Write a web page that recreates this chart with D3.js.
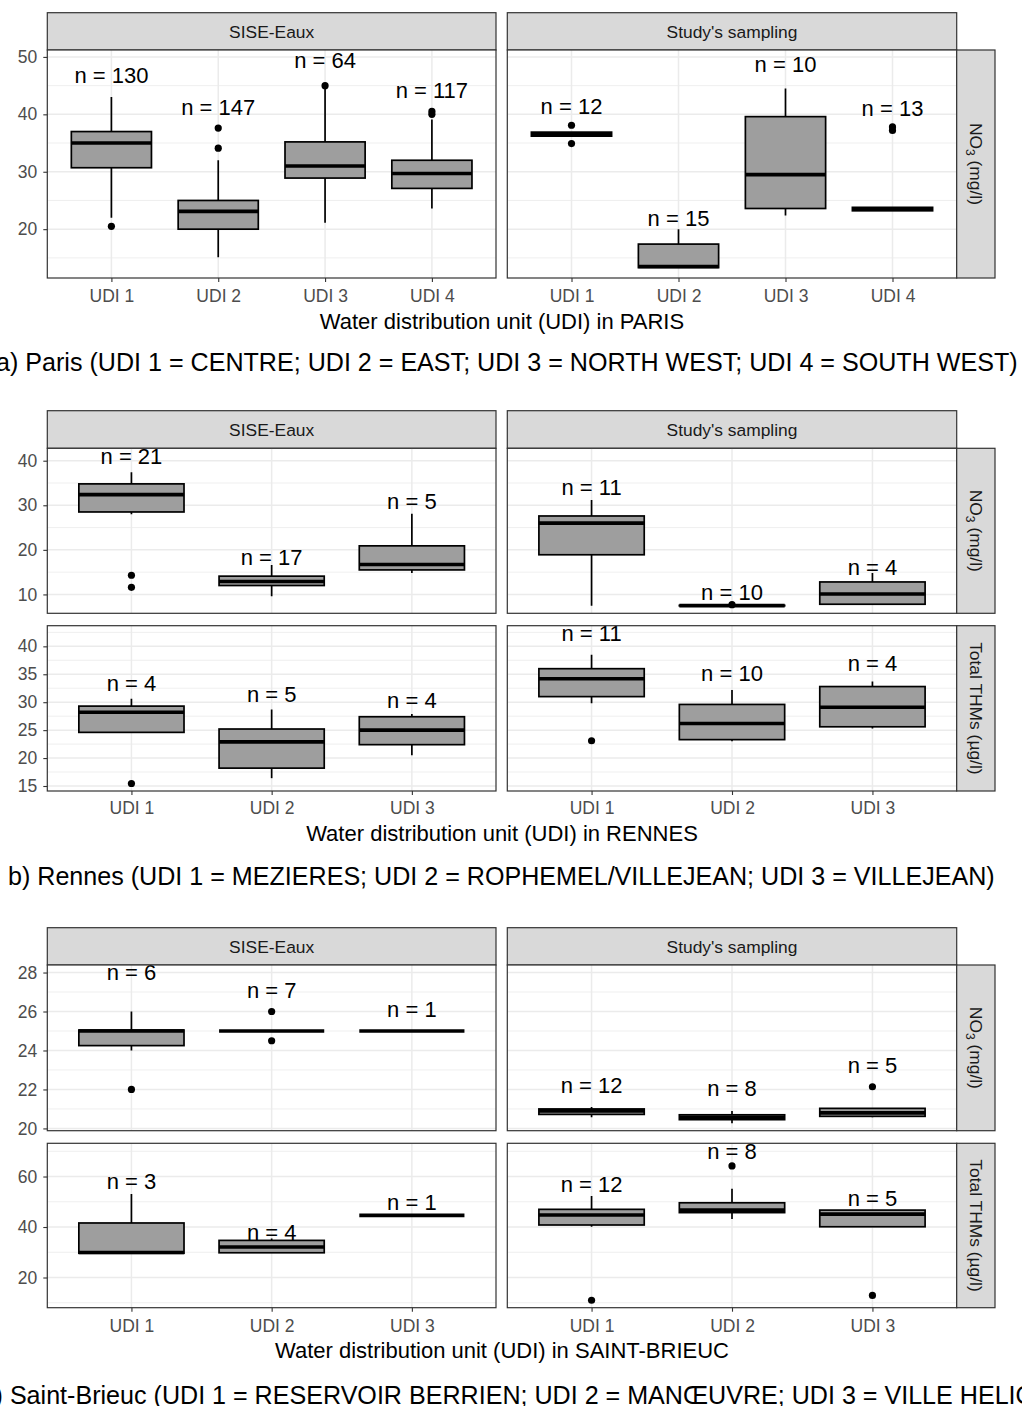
<!DOCTYPE html>
<html>
<head>
<meta charset="utf-8">
<script src="https://cdn.jsdelivr.net/npm/d3@7"></script>
<style>
  body { margin: 0; background: #fff; }
  svg { display: block; font-family: "Liberation Sans", Arial, sans-serif; }
</style>
</head>
<body>
<div class="chart"></div>
<script>
// box stats: [lower whisker, Q1, median, Q3, upper whisker]

// ---- a) Paris ----
const parisCats = ["UDI 1", "UDI 2", "UDI 3", "UDI 4"];
const parisTicks = [20, 30, 40, 50];
const parisSiseNO3 = [[22, 30.7, 35, 37, 43], [15.1, 20, 23.1, 25, 32], [21.1, 28.9, 31, 35.2, 44.5], [23.6, 27.1, 29.7, 32, 39.1]];
const parisSiseNO3Out = [[20.5], [34.1, 37.6], [45], [40, 40.5]];
const parisSiseNO3N = [130, 147, 64, 117];
const parisSiseNO3LabY = [46.8, 41.2, 49.4, 44.3];
const parisStudyNO3 = [[36.2, 36.2, 36.55, 36.9, 36.9], [13.3, 13.3, 13.5, 17.4, 20], [22.4, 23.6, 29.5, 39.6, 44.5], [23.2, 23.2, 23.5, 23.8, 23.8]];
const parisStudyNO3Out = [[34.9, 38.1], [], [], [37.2, 37.8]];
const parisStudyNO3N = [12, 15, 10, 13];
const parisStudyNO3LabY = [41.5, 21.9, 48.7, 41.1];

// ---- b) Rennes ----
const rennesCats = ["UDI 1", "UDI 2", "UDI 3"];
const rennesNO3Ticks = [10, 20, 30, 40];
const rennesTHMTicks = [15, 20, 25, 30, 35, 40];
const rennesSiseNO3 = [[28.0, 28.5, 32.4, 34.8, 37.4], [9.6, 12.0, 12.9, 14.1, 16.6], [14.8, 15.5, 16.7, 20.9, 28.1]];
const rennesSiseNO3Out = [[11.6, 14.3], [], []];
const rennesSiseNO3N = [21, 17, 5];
const rennesSiseNO3LabY = [41.1, 18.3, 30.9];
const rennesStudyNO3 = [[7.45, 18.9, 26.0, 27.6, 31.2], [7.45, 7.45, 7.5, 7.55, 7.55], [7.8, 7.8, 10.1, 12.8, 14.8]];
const rennesStudyNO3Out = [[], [7.7], []];
const rennesStudyNO3N = [11, 10, 4];
const rennesStudyNO3LabY = [34.1, 10.45, 16.2];
const rennesSiseTHM = [[24.6, 24.6, 28.2, 29.3, 30.6], [16.4, 18.2, 22.9, 25.2, 28.7], [20.5, 22.4, 25.0, 27.4, 27.9]];
const rennesSiseTHMOut = [[15.45], [], []];
const rennesSiseTHMN = [4, 5, 4];
const rennesSiseTHMLabY = [33.4, 31.5, 30.3];
const rennesStudyTHM = [[29.8, 31.0, 34.2, 36.0, 38.5], [23.0, 23.3, 26.2, 29.6, 32.2], [25.3, 25.6, 29.1, 32.8, 33.7]];
const rennesStudyTHMOut = [[23.1], [], []];
const rennesStudyTHMN = [11, 10, 4];
const rennesStudyTHMLabY = [42.35, 35.3, 37.0];

// ---- c) Saint-Brieuc ----
const sbCats = ["UDI 1", "UDI 2", "UDI 3"];
const sbNO3Ticks = [20, 22, 24, 26, 28];
const sbTHMTicks = [20, 40, 60];
const sbSiseNO3 = [[24.0, 24.25, 25.0, 25.05, 26.0], [25, 25, 25, 25, 25], [25, 25, 25, 25, 25]];
const sbSiseNO3Out = [[22.0], [24.5, 26.0], []];
const sbSiseNO3N = [6, 7, 1];
const sbSiseNO3LabY = [28.0, 27.1, 26.1];
const sbStudyNO3 = [[20.57, 20.72, 20.9, 21.0, 21.1], [20.27, 20.45, 20.57, 20.7, 20.9], [20.57, 20.62, 20.8, 21.03, 21.03]];
const sbStudyNO3Out = [[], [], [22.14]];
const sbStudyNO3N = [12, 8, 5];
const sbStudyNO3LabY = [22.2, 22.05, 23.25];
const sbSiseTHM = [[29.4, 29.6, 29.9, 41.6, 53.1], [29.8, 29.8, 32.1, 34.7, 35.5], [44.6, 44.6, 44.6, 44.6, 44.6]];
const sbSiseTHMOut = [[], [], []];
const sbSiseTHMN = [3, 4, 1];
const sbSiseTHMLabY = [58.0, 37.9, 49.7];
const sbStudyTHM = [[40.1, 40.8, 44.75, 47.0, 52.3], [43.2, 45.7, 46.7, 49.6, 55.2], [40.1, 40.1, 45.1, 46.7, 46.7]];
const sbStudyTHMOut = [[11.0], [64.2], [12.9]];
const sbStudyTHMN = [12, 8, 5];
const sbStudyTHMLabY = [57.0, 70.2, 51.4];

const colNames = ["SISE-Eaux", "Study's sampling"];

// layout
const colX = [[47.3, 496], [507.3, 956.7]];
const stripX = [956.7, 995];

const sections = [
  { cats: parisCats, stripTop: 12.7, panelTop: 50, tickLabTop: 290, titleY: 321, capY: 362, capX: -4,
    title: "Water distribution unit (UDI) in PARIS",
    caption: "a) Paris (UDI 1 = CENTRE; UDI 2 = EAST; UDI 3 = NORTH WEST; UDI 4 = SOUTH WEST)",
    rows: [
      { top: 50, bottom: 278, ticks: parisTicks, kind: "no3",
        panels: [[parisSiseNO3, parisSiseNO3Out, parisSiseNO3N, parisSiseNO3LabY],
                 [parisStudyNO3, parisStudyNO3Out, parisStudyNO3N, parisStudyNO3LabY]] }
    ] },
  { cats: rennesCats, stripTop: 410.7, panelTop: 448.3, tickLabTop: 802, titleY: 833, capY: 876, capX: 8,
    title: "Water distribution unit (UDI) in RENNES",
    caption: "b) Rennes (UDI 1 = MEZIERES; UDI 2 = ROPHEMEL/VILLEJEAN; UDI 3 = VILLEJEAN)",
    rows: [
      { top: 448.3, bottom: 613.3, ticks: rennesNO3Ticks, kind: "no3",
        panels: [[rennesSiseNO3, rennesSiseNO3Out, rennesSiseNO3N, rennesSiseNO3LabY],
                 [rennesStudyNO3, rennesStudyNO3Out, rennesStudyNO3N, rennesStudyNO3LabY]] },
      { top: 625.7, bottom: 791, ticks: rennesTHMTicks, kind: "thm",
        panels: [[rennesSiseTHM, rennesSiseTHMOut, rennesSiseTHMN, rennesSiseTHMLabY],
                 [rennesStudyTHM, rennesStudyTHMOut, rennesStudyTHMN, rennesStudyTHMLabY]] }
    ] },
  { cats: sbCats, stripTop: 927.7, panelTop: 965, tickLabTop: 1319.5, titleY: 1350, capY: 1395, capX: -18,
    title: "Water distribution unit (UDI) in SAINT-BRIEUC",
    caption: "c) Saint-Brieuc (UDI 1 = RESERVOIR BERRIEN; UDI 2 = MANŒUVRE; UDI 3 = VILLE HELIO)",
    rows: [
      { top: 965, bottom: 1130.7, ticks: sbNO3Ticks, kind: "no3",
        panels: [[sbSiseNO3, sbSiseNO3Out, sbSiseNO3N, sbSiseNO3LabY],
                 [sbStudyNO3, sbStudyNO3Out, sbStudyNO3N, sbStudyNO3LabY]] },
      { top: 1143.3, bottom: 1307.7, ticks: sbTHMTicks, kind: "thm",
        panels: [[sbSiseTHM, sbSiseTHMOut, sbSiseTHMN, sbSiseTHMLabY],
                 [sbStudyTHM, sbStudyTHMOut, sbStudyTHMN, sbStudyTHMLabY]] }
    ] }
];

const svg = d3.select(".chart").append("svg")
    .attr("width", 1022)
    .attr("height", 1406);

const defs = svg.append("defs");
let clipId = 0;

function drawPanel(x0, x1, row, y, cats, stats) {
  const [boxes, outs, ns, labY] = stats;
  const x = d3.scalePoint().domain(cats).range([x0, x1]).padding(0.6);
  const bw = x.step() * 0.75;
  const id = "clip" + (clipId++);
  defs.append("clipPath").attr("id", id)
    .append("rect").attr("x", x0).attr("y", row.top).attr("width", x1 - x0).attr("height", row.bottom - row.top);

  const g = svg.append("g").attr("clip-path", `url(#${id})`);
  g.append("rect")
    .attr("x", x0).attr("y", row.top)
    .attr("width", x1 - x0).attr("height", row.bottom - row.top)
    .attr("fill", "#fff");

  const step = row.ticks[1] - row.ticks[0];
  const dom = y.domain();
  const minor = [row.ticks[0] - step / 2].concat(row.ticks.map(t => t + step / 2))
    .filter(v => v > dom[0] && v < dom[1]);

  g.selectAll(".minor").data(minor).join("line")
    .attr("x1", x0).attr("x2", x1)
    .attr("y1", d => y(d)).attr("y2", d => y(d))
    .attr("stroke", "#EBEBEB").attr("stroke-width", 0.8);
  g.selectAll(".major").data(row.ticks).join("line")
    .attr("x1", x0).attr("x2", x1)
    .attr("y1", d => y(d)).attr("y2", d => y(d))
    .attr("stroke", "#EBEBEB").attr("stroke-width", 1.5);
  g.selectAll(".vgrid").data(cats).join("line")
    .attr("x1", d => x(d)).attr("x2", d => x(d))
    .attr("y1", row.top).attr("y2", row.bottom)
    .attr("stroke", "#EBEBEB").attr("stroke-width", 1.5);

  const rows = boxes.map((b, i) => ({cat: cats[i], b: b, out: outs[i], n: ns[i], ly: labY[i]}));
  const bx = g.selectAll(".box").data(rows).join("g").attr("class", "box");

  bx.append("line")
    .attr("x1", d => x(d.cat)).attr("x2", d => x(d.cat))
    .attr("y1", d => y(d.b[0])).attr("y2", d => y(d.b[1]))
    .attr("stroke", "#000").attr("stroke-width", 1.7);
  bx.append("line")
    .attr("x1", d => x(d.cat)).attr("x2", d => x(d.cat))
    .attr("y1", d => y(d.b[3])).attr("y2", d => y(d.b[4]))
    .attr("stroke", "#000").attr("stroke-width", 1.7);
  bx.append("rect")
    .attr("x", d => x(d.cat) - bw / 2)
    .attr("y", d => y(d.b[3]))
    .attr("width", bw)
    .attr("height", d => y(d.b[1]) - y(d.b[3]))
    .attr("fill", "#9E9E9E")
    .attr("stroke", "#000").attr("stroke-width", 1.7);
  bx.append("line")
    .attr("x1", d => x(d.cat) - bw / 2).attr("x2", d => x(d.cat) + bw / 2)
    .attr("y1", d => y(d.b[2])).attr("y2", d => y(d.b[2]))
    .attr("stroke", "#000").attr("stroke-width", 3.6);
  bx.selectAll("circle").data(d => d.out.map(v => ({cat: d.cat, v: v}))).join("circle")
    .attr("cx", d => x(d.cat)).attr("cy", d => y(d.v))
    .attr("r", 3.6).attr("fill", "#000");
  bx.append("text")
    .attr("x", d => x(d.cat)).attr("y", d => y(d.ly))
    .attr("dy", "0.36em")
    .attr("text-anchor", "middle")
    .attr("font-size", 22)
    .attr("fill", "#000")
    .text(d => "n = " + d.n);

  svg.append("rect")
    .attr("x", x0).attr("y", row.top)
    .attr("width", x1 - x0).attr("height", row.bottom - row.top)
    .attr("fill", "none").attr("stroke", "#333").attr("stroke-width", 1.2);
  return x;
}

function styleAxis(a) {
  a.select(".domain").remove();
  a.selectAll(".tick line").attr("stroke", "#333").attr("stroke-width", 1.1);
  a.selectAll(".tick text").attr("fill", "#4D4D4D").attr("font-size", 17.5)
    .attr("font-family", "'Liberation Sans', Arial, sans-serif");
}

sections.forEach(sec => {
  // top strips
  colX.forEach((c, j) => {
    svg.append("rect")
      .attr("x", c[0]).attr("y", sec.stripTop)
      .attr("width", c[1] - c[0]).attr("height", sec.panelTop - sec.stripTop)
      .attr("fill", "#D9D9D9").attr("stroke", "#333").attr("stroke-width", 1.2);
    svg.append("text")
      .attr("x", (c[0] + c[1]) / 2).attr("y", (sec.stripTop + sec.panelTop) / 2)
      .attr("dy", "0.36em").attr("text-anchor", "middle")
      .attr("font-size", 17.4).attr("fill", "#1A1A1A")
      .text(colNames[j]);
  });

  sec.rows.forEach((row, ri) => {
    const vals = row.panels.flatMap(p => p[0].flat().concat(p[1].flat(), p[3]));
    const ext = d3.extent(vals);
    const pad = (ext[1] - ext[0]) * 0.05;
    const y = d3.scaleLinear().domain([ext[0] - pad, ext[1] + pad]).range([row.bottom, row.top]);

    const xs = row.panels.map((p, j) => drawPanel(colX[j][0], colX[j][1], row, y, sec.cats, p));

    // y axis on the left column
    const ya = svg.append("g")
      .attr("transform", `translate(${colX[0][0]},0)`)
      .call(d3.axisLeft(y).tickValues(row.ticks).tickSize(4).tickPadding(6).tickFormat(d3.format("d")));
    styleAxis(ya);

    // x axis under the last row
    if (ri === sec.rows.length - 1) {
      xs.forEach(x => {
        const xa = svg.append("g")
          .attr("transform", `translate(0,${row.bottom})`)
          .call(d3.axisBottom(x).tickSize(4).tickPadding(sec.tickLabTop - row.bottom - 4));
        styleAxis(xa);
      });
    }

    // right strip
    svg.append("rect")
      .attr("x", stripX[0]).attr("y", row.top)
      .attr("width", stripX[1] - stripX[0]).attr("height", row.bottom - row.top)
      .attr("fill", "#D9D9D9").attr("stroke", "#333").attr("stroke-width", 1.2);
    const st = svg.append("text")
      .attr("transform", `translate(${(stripX[0] + stripX[1]) / 2 - 6},${(row.top + row.bottom) / 2}) rotate(90)`)
      .attr("text-anchor", "middle")
      .attr("font-size", 17.4).attr("fill", "#1A1A1A");
    if (row.kind === "no3") {
      st.append("tspan").text("NO");
      st.append("tspan").attr("font-size", 12).attr("dy", 4).text("3");
      st.append("tspan").attr("dy", -4).text(" (mg/l)");
    } else {
      st.text("Total THMs (µg/l)");
    }
  });

  svg.append("text")
    .attr("x", (colX[0][0] + colX[1][1]) / 2).attr("y", sec.titleY)
    .attr("dy", "0.36em").attr("text-anchor", "middle")
    .attr("font-size", 22).attr("fill", "#000")
    .text(sec.title);

  sec.capNode = svg.append("text")
    .attr("x", sec.capX).attr("y", sec.capY)
    .attr("dy", "0.36em")
    .attr("font-size", 24).attr("fill", "#000")
    .text(sec.caption);
});

// fit caption size so that a) spans the page width like the figure
const w0 = sections[0].capNode.node().getComputedTextLength();
const capSize = 24 * 1022 / w0;
sections.forEach(sec => sec.capNode.attr("font-size", capSize));
</script>
</body>
</html>
